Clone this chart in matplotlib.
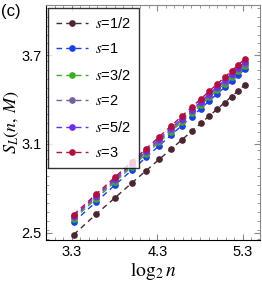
import matplotlib.pyplot as plt
import numpy as np
from matplotlib.ticker import MultipleLocator

# datos
n = [10, 12, 14, 16, 18, 20, 22, 24, 26, 28, 30, 32, 34, 36, 38, 40]
etiquetas = ["1/2", "1", "3/2", "2", "5/2", "3"]
colores = ["#4b2632", "#1c3ee6", "#3aae22", "#76609c", "#6d2ee8", "#b01040"]

s_12 = [2.486, 2.625, 2.737, 2.835, 2.920, 2.996, 3.064, 3.127, 3.185, 3.239, 3.289, 3.336, 3.380, 3.421, 3.461, 3.499]
s_1 = [2.572, 2.708, 2.823, 2.922, 3.010, 3.089, 3.159, 3.224, 3.284, 3.339, 3.391, 3.439, 3.484, 3.527, 3.567, 3.605]
s_32 = [2.593, 2.729, 2.844, 2.945, 3.033, 3.112, 3.183, 3.248, 3.307, 3.363, 3.415, 3.463, 3.508, 3.551, 3.592, 3.630]
s_2 = [2.603, 2.740, 2.855, 2.956, 3.044, 3.123, 3.194, 3.260, 3.320, 3.375, 3.427, 3.476, 3.521, 3.564, 3.605, 3.643]
s_52 = [2.612, 2.749, 2.865, 2.966, 3.054, 3.134, 3.205, 3.271, 3.331, 3.386, 3.439, 3.487, 3.532, 3.576, 3.616, 3.655]
s_3 = [2.622, 2.760, 2.877, 2.979, 3.068, 3.149, 3.221, 3.287, 3.348, 3.404, 3.457, 3.505, 3.551, 3.595, 3.636, 3.675]
series = [s_12, s_1, s_32, s_2, s_52, s_3]

plt.rcParams['font.family'] = ['Liberation Sans Narrow', 'Liberation Sans', 'DejaVu Sans']
plt.rcParams['mathtext.fontset'] = 'stix'

fig = plt.figure(figsize=(2.62, 2.96), dpi=100)
ax = fig.add_axes([0.176, 0.189, 0.816, 0.794])

x = np.log2(n)
for y, et, c in zip(series, etiquetas, colores):
    ax.plot(x, y, linestyle=(0, (4, 3)), color=c, lw=1.0, marker="o",
            markersize=3.8, label=r"$s$=" + et)

ax.set_xlim(3.0, 5.5)
ax.set_ylim(2.45, 4.04)
ax.set_xticks([3.3, 4.3, 5.3])
ax.set_yticks([2.5, 3.1, 3.7])
ax.xaxis.set_minor_locator(MultipleLocator(0.1))
ax.yaxis.set_minor_locator(MultipleLocator(0.06))
ax.tick_params(which="both", direction="in", top=True, right=True, color="#888888",
               labelsize=10.5)
ax.tick_params(which="major", length=4)
ax.tick_params(which="minor", length=2)
for sp in ax.spines.values():
    sp.set_color("#888888")
ax.spines["left"].set_color("black")
ax.spines["bottom"].set_color("black")

ax.set_xlabel(r"$\log_2 n$", fontsize=14, labelpad=1)
ax.set_ylabel(r"$S_L(n,\,M)$", fontsize=13, labelpad=0)
fig.text(0.005, 0.985, "(c)", fontsize=12, va="top", ha="left")

leg = ax.legend(loc="upper left", fontsize=10.5, frameon=True, fancybox=False,
                edgecolor="black", handlelength=2.2, handletextpad=0.5,
                labelspacing=0.78, borderpad=0.55, borderaxespad=0,
                bbox_to_anchor=(0.008, 0.987))
leg.get_frame().set_linewidth(1.0)

fig.savefig("out.png", dpi=100)
